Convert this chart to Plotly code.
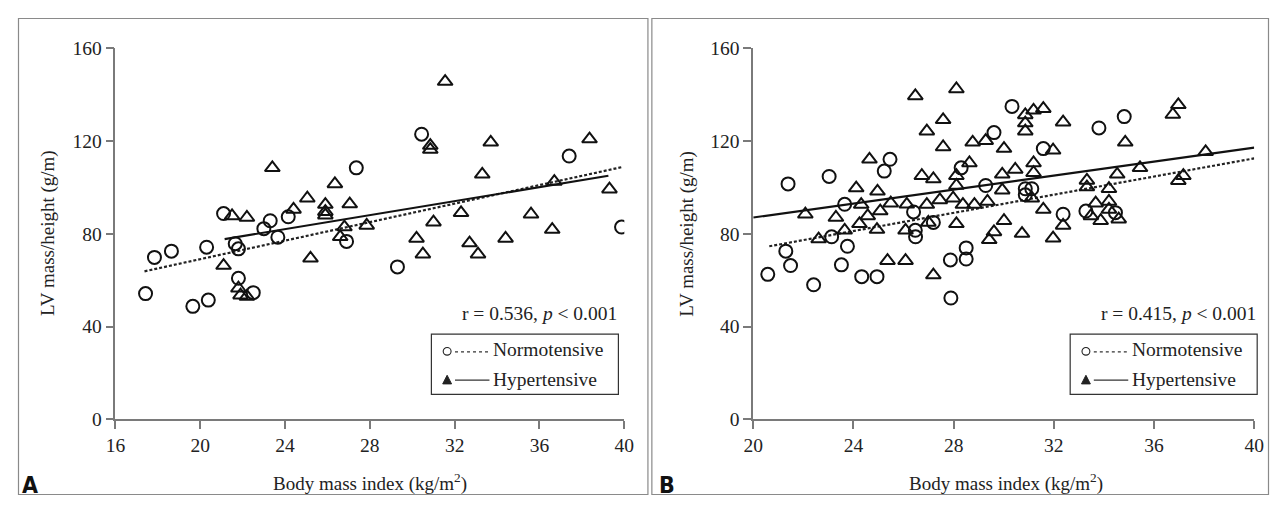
import plotly.graph_objects as go

# ---------------- Panel A data ----------------
a_norm_bmi = [17.42, 17.84, 18.64, 19.65, 20.38, 20.30, 21.1, 21.65, 21.8, 21.8, 22.5,
              23.0, 23.3, 23.66, 24.15, 26.9, 27.36, 29.3, 30.44, 37.4, 39.87]
a_norm_lv = [54.2, 69.8, 72.5, 48.7, 51.4, 74.2, 88.7, 75.7, 73.5, 60.8, 54.6,
             82.2, 85.6, 78.5, 87.3, 76.7, 108.4, 65.7, 122.9, 113.5, 82.9]
a_hyp_bmi = [21.1, 21.5, 22.2, 21.8, 21.9, 22.2, 23.4, 24.4, 25.05, 25.2, 25.9, 25.9, 25.9,
             26.35, 27.05, 26.8, 26.6, 27.85, 30.2, 30.5, 30.85, 30.85, 31.0, 31.55, 32.3,
             32.7, 33.1, 33.3, 33.7, 34.4, 35.6, 36.6, 36.7, 38.36, 39.3]
a_hyp_lv = [66.3, 87.7, 87.0, 56.5, 53.5, 53.0, 108.4, 90.5, 95.3, 69.4, 92.6, 89.5, 88.0,
            101.5, 92.8, 82.9, 78.7, 83.6, 78.0, 71.2, 118.0, 116.3, 85.0, 145.6, 89.0,
            76.0, 71.2, 105.6, 119.4, 78.0, 88.4, 81.8, 102.5, 120.8, 99.2]
a_fit_norm_x = [17.37, 39.87]
a_fit_norm_y = [63.8, 108.7]
a_fit_hyp_x = [21.15, 39.25]
a_fit_hyp_y = [77.7, 105.0]
a_stat = "r = 0.536, <i>p</i> < 0.001"

# ---------------- Panel B data ----------------
b_norm_bmi = [20.58, 21.39, 21.30, 21.49, 22.41, 23.03, 23.13, 23.52, 23.65, 23.76, 24.33,
              24.94, 25.23, 25.46, 26.40, 26.47, 26.48, 27.19, 27.87, 27.89, 28.50, 28.50,
              28.30, 29.28, 30.33, 29.61, 31.58, 33.80, 34.81, 30.86, 31.12, 32.37, 33.28,
              34.46, 30.86]
b_norm_lv = [62.5, 101.5, 72.5, 66.3, 58.0, 104.7, 78.7, 66.6, 92.7, 74.6, 61.5,
             61.5, 107.0, 112.1, 89.4, 81.5, 78.7, 84.9, 68.7, 52.3, 73.9, 69.1,
             108.4, 100.8, 134.9, 123.6, 116.7, 125.6, 130.5, 99.4, 99.4, 88.4, 89.8,
             89.1, 96.8]
b_hyp_bmi = [22.08, 22.61, 23.30, 23.65, 24.11, 24.31, 24.24, 24.64, 24.57, 24.96, 25.07,
             24.94, 25.49, 25.36, 26.08, 26.13, 26.08, 26.47, 26.73, 26.93, 26.93, 26.99,
             27.19, 27.19, 27.45, 27.58, 27.58, 28.11, 28.11, 28.11, 27.98, 28.11, 28.37,
             28.63, 28.76, 28.83, 29.28, 29.35, 29.42, 30.86, 30.86, 30.86, 31.19, 31.58,
             32.37, 31.97, 30.01, 29.94, 30.46, 29.94, 31.19, 31.19, 31.12, 31.58, 30.01,
             29.61, 30.73, 31.97, 32.37, 33.32, 33.32, 33.67, 34.20, 34.20, 34.53, 33.48,
             33.87, 34.20, 34.59, 34.85, 35.44, 36.75, 36.97, 36.97, 37.17, 38.06]
b_hyp_lv = [88.4, 77.7, 87.0, 81.5, 99.7, 92.6, 84.3, 112.1, 87.7, 98.3, 89.8,
            81.8, 93.2, 68.4, 68.4, 92.7, 81.5, 139.4, 105.0, 124.2, 92.6, 84.9,
            103.6, 62.2, 94.6, 129.1, 117.4, 142.4, 105.0, 100.8, 95.3, 84.3, 92.6,
            110.5, 119.4, 92.6, 120.1, 93.9, 77.4, 131.2, 127.7, 124.2, 133.2, 133.9,
            128.1, 116.0, 116.7, 105.6, 107.7, 98.8, 110.5, 106.3, 95.3, 90.5, 85.6,
            80.8, 80.1, 78.1, 83.6, 103.0, 100.1, 93.2, 99.4, 93.9, 105.6, 87.7,
            85.6, 90.5, 86.3, 119.4, 108.4, 131.4, 135.6, 102.9, 105.0, 115.3]
b_fit_norm_x = [20.64, 40.0]
b_fit_norm_y = [74.6, 112.5]
b_fit_hyp_x = [20.0, 40.0]
b_fit_hyp_y = [87.0, 117.1]
b_stat = "r = 0.415, <i>p</i> < 0.001"

y_ticks = [0, 40, 80, 120, 160]
a_x_ticks = [16, 20, 24, 28, 32, 36, 40]
b_x_ticks = [20, 24, 28, 32, 36, 40]
panel_labels = ["A", "B"]
legend_names = ["Normotensive", "Hypertensive"]
y_title = "LV mass/height (g/m)"
x_title = "Body mass index (kg/m<sup>2</sup>)"

# page body keeps its default 8px margin, so the figure fills the rest of the window
OFF = 8
W, H = 1287 - 2 * OFF, 514 - 2 * OFF
SERIF = "Liberation Serif"
FS = 19.5

fig = go.Figure()

def add_panel(xa, ya, nx, ny, hx, hy, fnx, fny, fhx, fhy):
    fig.add_trace(go.Scatter(x=fnx, y=fny, mode="lines", xaxis=xa, yaxis=ya,
                             line=dict(color="#222", width=2.2, dash="3px,2px"),
                             showlegend=False, hoverinfo="skip"))
    fig.add_trace(go.Scatter(x=fhx, y=fhy, mode="lines", xaxis=xa, yaxis=ya,
                             line=dict(color="#111", width=2.2),
                             showlegend=False, hoverinfo="skip"))
    fig.add_trace(go.Scatter(x=nx, y=ny, mode="markers", xaxis=xa, yaxis=ya,
                             marker=dict(symbol="circle-open", size=13, color="#111",
                                         line=dict(width=2, color="#111")),
                             showlegend=False))
    fig.add_trace(go.Scatter(x=hx, y=hy, mode="markers", xaxis=xa, yaxis=ya,
                             marker=dict(symbol="triangle-up-open", size=13, color="#111",
                                         line=dict(width=2, color="#111")),
                             showlegend=False))

add_panel("x", "y", a_norm_bmi, a_norm_lv, a_hyp_bmi, a_hyp_lv,
          a_fit_norm_x, a_fit_norm_y, a_fit_hyp_x, a_fit_hyp_y)
add_panel("x2", "y2", b_norm_bmi, b_norm_lv, b_hyp_bmi, b_hyp_lv,
          b_fit_norm_x, b_fit_norm_y, b_fit_hyp_x, b_fit_hyp_y)

def px(v):
    return min(max((v - OFF) / W, 0.0004), 0.9996)

def py(v):
    return 1 - min(max((v - OFF) / H, 0.001), 0.999)

y_dom = [py(427), py(39.5)]
axis_common = dict(showgrid=False, zeroline=False, showline=True, linecolor="#7a7a7a",
                   linewidth=1.5, ticks="outside", ticklen=8, tickcolor="#7a7a7a",
                   tickwidth=1.5, tickfont=dict(family=SERIF, size=FS, color="#222"))

fig.update_layout(
    width=W, height=H, autosize=False, margin=dict(l=0, r=0, t=0, b=0),
    paper_bgcolor="white", plot_bgcolor="white", showlegend=False,
    font=dict(family=SERIF),
    xaxis=dict(domain=[px(107), px(624)], range=[16, 40], tickvals=a_x_ticks,
               anchor="y", **axis_common),
    yaxis=dict(domain=y_dom, range=[0, 160], tickvals=y_ticks, anchor="x", **axis_common),
    xaxis2=dict(domain=[px(755), px(1264)], range=[20, 40], tickvals=b_x_ticks,
                anchor="y2", **axis_common),
    yaxis2=dict(domain=y_dom, range=[0, 160], tickvals=y_ticks, anchor="x2", **axis_common),
)

shapes = []
annos = []
for x0, x1 in [(3, 648), (652, 1284)]:
    shapes.append(dict(type="rect", xref="paper", yref="paper", x0=px(x0), x1=px(x1),
                       y0=py(512), y1=py(2), line=dict(color="#8a8a8a", width=1.2)))

panels = [
    dict(off=0, stat=a_stat, label=panel_labels[0], ycx=38, xcx=366),
    dict(off=649, stat=b_stat, label=panel_labels[1], ycx=687, xcx=1012),
]
for p in panels:
    o = p["off"]
    annos.append(dict(xref="paper", yref="paper", x=px(619 + o), y=py(316), xanchor="right",
                      yanchor="middle", text=p["stat"], showarrow=False,
                      font=dict(family=SERIF, size=FS, color="#222")))
    shapes.append(dict(type="rect", xref="paper", yref="paper", x0=px(428 + o), x1=px(618 + o),
                       y0=py(401), y1=py(338), line=dict(color="#333", width=1.2)))
    shapes.append(dict(type="circle", xref="paper", yref="paper",
                       x0=px(440 + o), x1=px(448 + o), y0=py(360), y1=py(352),
                       line=dict(color="#222", width=1.1)))
    shapes.append(dict(type="line", xref="paper", yref="paper", x0=px(452 + o), x1=px(487 + o),
                       y0=py(356.5), y1=py(356.5),
                       line=dict(color="#333", width=1.2, dash="3px,3px")))
    annos.append(dict(xref="paper", yref="paper", x=px(489 + o), y=py(354), xanchor="left",
                      yanchor="middle", text=legend_names[0], showarrow=False,
                      font=dict(family=SERIF, size=FS, color="#222")))
    tx0, tx1, tyb, tyt = px(439.5 + o), px(448.5 + o), py(390), py(381)
    shapes.append(dict(type="path", xref="paper", yref="paper",
                       path=f"M {tx0} {tyb} L {tx1} {tyb} L {(tx0 + tx1) / 2} {tyt} Z",
                       fillcolor="#222", line=dict(color="#222", width=1)))
    shapes.append(dict(type="line", xref="paper", yref="paper", x0=px(452 + o), x1=px(487 + o),
                       y0=py(386), y1=py(386), line=dict(color="#333", width=1.2)))
    annos.append(dict(xref="paper", yref="paper", x=px(489 + o), y=py(385), xanchor="left",
                      yanchor="middle", text=legend_names[1], showarrow=False,
                      font=dict(family=SERIF, size=FS, color="#222")))
    annos.append(dict(xref="paper", yref="paper", x=px(p["ycx"]), y=py(233), xanchor="center",
                      yanchor="middle", text=y_title, textangle=-90, showarrow=False,
                      font=dict(family=SERIF, size=19, color="#222")))
    annos.append(dict(xref="paper", yref="paper", x=px(p["xcx"]), y=py(493), xanchor="center",
                      yanchor="middle", text=x_title, showarrow=False,
                      font=dict(family=SERIF, size=19, color="#222")))
    annos.append(dict(xref="paper", yref="paper", x=px(max(8 + o, 10)), y=py(496), xanchor="left",
                      yanchor="middle", text="<b>" + p["label"] + "</b>", showarrow=False,
                      font=dict(family="DejaVu Sans Condensed", size=23, color="#111")))

fig.update_layout(shapes=shapes, annotations=annos)
fig.write_html("out.html", config={"displayModeBar": False, "responsive": False})
